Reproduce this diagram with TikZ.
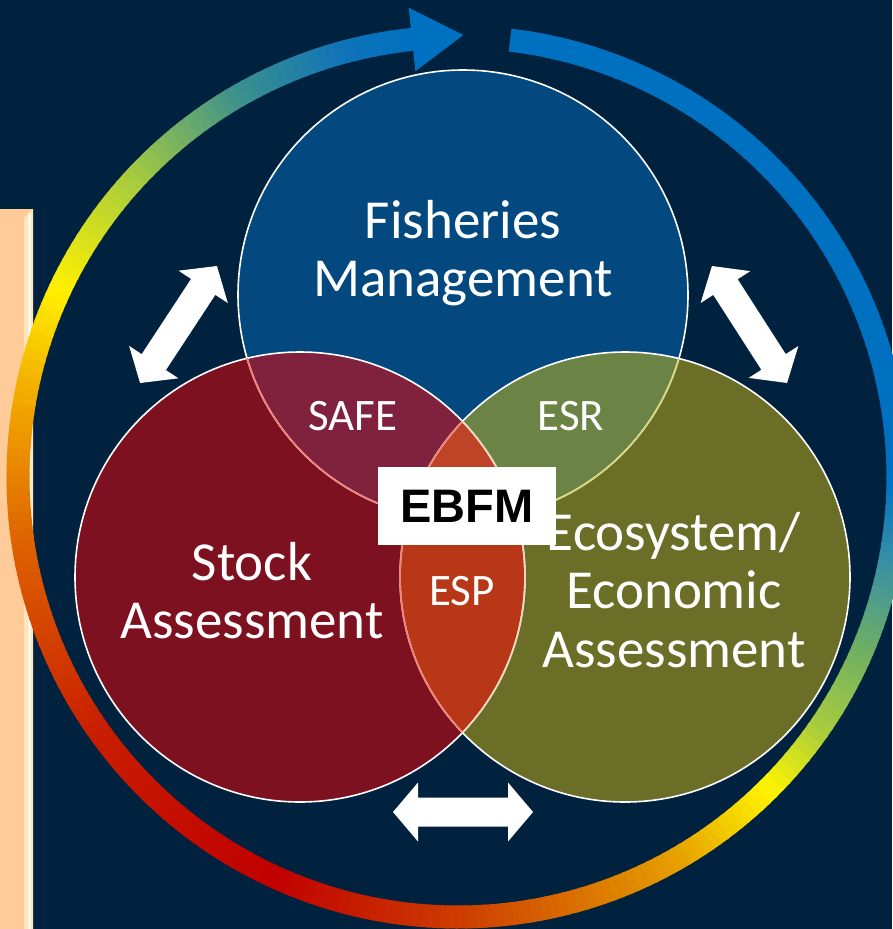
\documentclass[tikz,border=0pt]{standalone}
\usepackage{fontspec}
\setmainfont{Carlito}
\newfontfamily\arialfam{Liberation Sans}
\usetikzlibrary{calc}
\definecolor{bg}{RGB}{1,34,62}
\definecolor{peach}{RGB}{255,204,153}
\definecolor{peachlt}{RGB}{255,228,190}
\definecolor{peachwh}{RGB}{255,246,228}
\definecolor{fmc}{RGB}{3,73,128}
\definecolor{stc}{RGB}{126,17,32}
\definecolor{ecc}{RGB}{106,110,38}
\definecolor{safec}{RGB}{128,34,62}
\definecolor{esrc}{RGB}{107,132,69}
\definecolor{espc}{RGB}{183,55,22}
\definecolor{tric}{RGB}{190,68,40}
\definecolor{pinkln}{RGB}{240,130,120}
\definecolor{yelln}{RGB}{215,215,120}
\definecolor{paleln}{RGB}{240,215,190}
\definecolor{rB}{RGB}{0,112,192}
\definecolor{rC}{RGB}{50,140,170}
\definecolor{rD}{RGB}{110,175,100}
\definecolor{rE}{RGB}{170,205,60}
\definecolor{rF}{RGB}{255,245,0}
\definecolor{rG}{RGB}{230,160,0}
\definecolor{rH}{RGB}{205,60,0}
\definecolor{rI}{RGB}{192,0,0}
\definecolor{rJ}{RGB}{200,30,0}
\definecolor{rK}{RGB}{222,100,0}
\definecolor{rL}{RGB}{245,180,0}
\definecolor{rM}{RGB}{255,240,0}
\definecolor{rN}{RGB}{170,205,60}
\definecolor{rO}{RGB}{60,145,140}
\definecolor{rP}{RGB}{15,115,185}
\tikzset{
  lbl/.style={text=white, inner sep=0pt, anchor=base, font=\fontsize{55}{59}\selectfont},
  slbl/.style={text=white, inner sep=0pt, anchor=base, font=\fontsize{45}{48}\selectfont},
  outl/.style={line width=1.6pt},
  dblarrow/.style={fill=white}
}
\newcommand\ringpart[4]{%
  \pgfmathsetmacro\nsteps{int(max(1,round((#2-#1)/1.2)))}%
  \foreach \i in {1,...,\nsteps}{%
    \pgfmathsetmacro\ta{#1+(\i-1)*(#2-#1)/\nsteps-90}%
    \pgfmathsetmacro\tb{#1+\i*(#2-#1)/\nsteps-90+0.35}%
    \pgfmathsetmacro\pct{100*(\i-0.5)/\nsteps}%
    \draw[line width=23pt, color=#4!\pct!#3] (rc) ++(\ta:440) arc[start angle=\ta, end angle=\tb, radius=440];
  }}
\newcommand\dblarr[4]{%
  \begin{scope}[shift={(#1,#2)}, rotate=#3]
    \fill[dblarrow] (-#4/2,0) -- (-#4/2+25,-29.5) -- (-#4/2+25,-14.5) -- (#4/2-25,-14.5) -- (#4/2-25,-29.5) -- (#4/2,0) -- (#4/2-25,29.5) -- (#4/2-25,14.5) -- (-#4/2+25,14.5) -- (-#4/2+25,29.5) -- cycle;
  \end{scope}}
\begin{document}
\begin{tikzpicture}[x=1pt,y=-1pt]
\useasboundingbox (0,0) rectangle (892,929);
\fill[bg] (0,0) rectangle (892,929);
% peach strip
\fill[peach] (0,209) rectangle (33,929);
\fill[peachlt] (24,218) -- (33,209) -- (33,929) -- (24,929) -- cycle;
\fill[peachwh] (28,213) rectangle (31,929);
% ring
\coordinate (rc) at (458,477);
\ringpart{6.8}{90}{rB}{rB}
\ringpart{90}{100}{rB}{rC}
\ringpart{100}{113}{rC}{rD}
\ringpart{113}{125}{rD}{rE}
\ringpart{125}{135}{rE}{rF}
\ringpart{135}{150}{rF}{rG}
\ringpart{150}{180}{rG}{rH}
\ringpart{180}{205}{rH}{rI}
\ringpart{205}{235}{rI}{rJ}
\ringpart{235}{262}{rJ}{rK}
\ringpart{262}{283}{rK}{rL}
\ringpart{283}{295}{rL}{rM}
\ringpart{295}{312}{rM}{rN}
\ringpart{312}{330}{rN}{rO}
\ringpart{330}{345}{rO}{rP}
\ringpart{345}{353.8}{rP}{rB}
\fill[rB] ($(rc)+(-96:472)$) -- ($(rc)+(-89.3:442)$) -- ($(rc)+(-96:408)$) -- cycle;
% circles
\coordinate (fmC) at (463,295);
\coordinate (stC) at (300,577);
\coordinate (ecC) at (625,577);
\fill[fmc] (fmC) circle (225pt);
\fill[stc] (stC) circle (225pt);
\fill[ecc] (ecC) circle (225pt);
\begin{scope}
  \clip (fmC) circle (225pt);
  \fill[safec] (stC) circle (225pt);
  \fill[esrc] (ecC) circle (225pt);
\end{scope}
\begin{scope}
  \clip (stC) circle (225pt);
  \fill[espc] (ecC) circle (225pt);
  \clip (fmC) circle (225pt);
  \fill[tric] (ecC) circle (225pt);
\end{scope}
\draw[white, outl] (fmC) circle (225pt);
\draw[white, outl] (stC) circle (225pt);
\draw[white, outl] (ecC) circle (225pt);
\begin{scope}
  \clip (stC) circle (225pt);
  \draw[pinkln, outl] (fmC) circle (225pt);
  \draw[pinkln, outl] (ecC) circle (225pt);
\end{scope}
\begin{scope}
  \clip (ecC) circle (225pt);
  \draw[yelln, outl] (fmC) circle (225pt);
  \draw[paleln, outl] (stC) circle (225pt);
\end{scope}
% labels
\node[lbl] (fm1) at (463,238) {Fisheries};
\node[lbl] (fm2) at (463,296) {Management};
\node[lbl] (st1) at (252,580) {Stock};
\node[lbl] (st2) at (252,638) {Assessment};
\node[lbl] (ec1) at (674,550) {Ecosystem/};
\node[lbl] (ec2) at (674,608) {Economic};
\node[lbl] (ec3) at (674,667) {Assessment};
\node[slbl] (safe) at (353,430) {SAFE};
\node[slbl] (esr) at (571,430) {ESR};
\node[slbl] (esp) at (462,605) {ESP};
\node[fill=white, minimum width=178pt, minimum height=78pt, inner sep=0pt,
      font=\arialfam\bfseries\fontsize{47}{47}\selectfont] (ebfm) at (467,506) {EBFM};
% double arrows
\dblarr{178.5}{324.5}{56.7}{140}
\dblarr{749.5}{324.5}{-57.3}{139}
\dblarr{463}{812}{0}{140}
\end{tikzpicture}
\end{document}
